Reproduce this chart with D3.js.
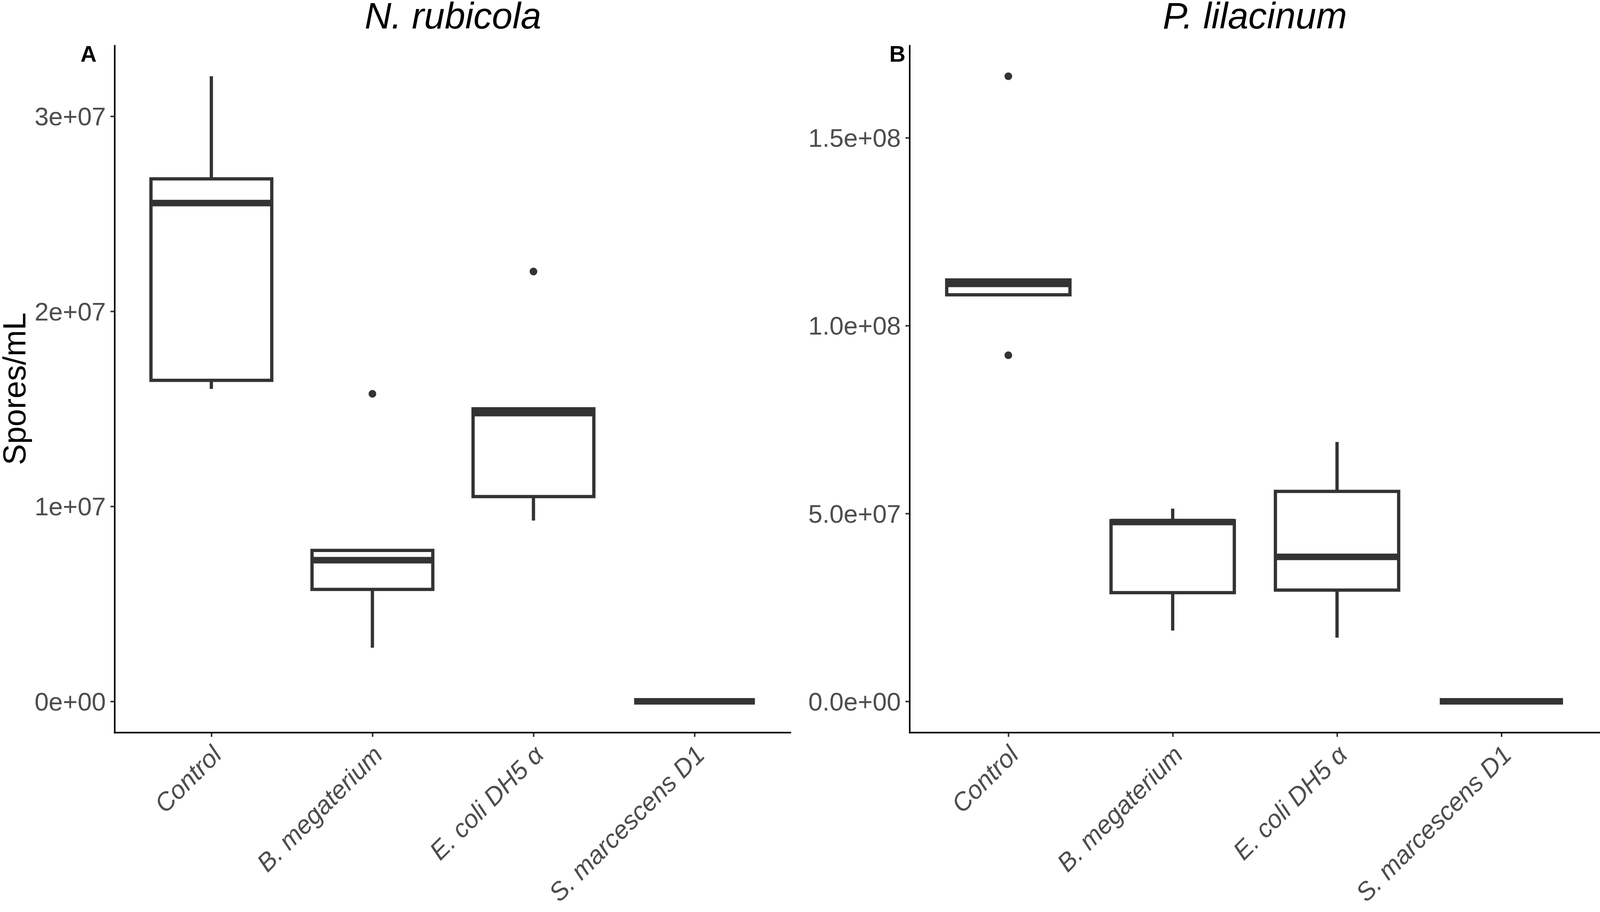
<!DOCTYPE html>
<html>
<head>
<meta charset="utf-8">
<script src="https://cdn.jsdelivr.net/npm/d3@7"></script>
<style>
  html, body { margin: 0; padding: 0; background: #ffffff; width: 100%; height: 100%; overflow: hidden; }
  svg { display: block; width: 100vw; height: 100vh; }
</style>
</head>
<body>
<script>
// ---------------- data ----------------
const categories = ["Control", "B. megaterium", "E. coli DH5 α", "S. marcescens D1"];

const panelTitles = ["N. rubicola", "P. lilacinum"];
const panelTags = ["A", "B"];
const yAxisTitle = "Spores/mL";

// Panel A: N. rubicola (box statistics)
const rubicolaLower   = [1.602e7, 0.275e7, 0.927e7, 0];
const rubicolaQ1      = [1.646e7, 0.574e7, 1.050e7, 0];
const rubicolaMedian  = [2.555e7, 0.724e7, 1.478e7, 0];
const rubicolaQ3      = [2.679e7, 0.774e7, 1.500e7, 0];
const rubicolaUpper   = [3.205e7, 0.774e7, 1.500e7, 0];
const rubicolaOutliers = [[], [1.577e7], [2.204e7], []];
const rubicolaTicks = [0, 1e7, 2e7, 3e7];
const rubicolaTickLabels = ["0e+00", "1e+07", "2e+07", "3e+07"];

// Panel B: P. lilacinum
const lilacinumLower  = [1.082e8, 1.886e7, 1.695e7, 0];
const lilacinumQ1     = [1.082e8, 2.893e7, 2.961e7, 0];
const lilacinumMedian = [1.111e8, 4.773e7, 3.846e7, 0];
const lilacinumQ3     = [1.1215e8, 4.809e7, 5.588e7, 0];
const lilacinumUpper  = [1.1215e8, 5.129e7, 6.904e7, 0];
const lilacinumOutliers = [[1.6636e8, 0.9211e8], [], [], []];
const lilacinumTicks = [0, 5e7, 1e8, 1.5e8];
const lilacinumTickLabels = ["0.0e+00", "5.0e+07", "1.0e+08", "1.5e+08"];

// ---------------- layout ----------------
const W = 4156, H = 2336;
const FONT = "'Liberation Sans', Arial, Helvetica, sans-serif";
const INK = "#333333";

const panels = [
  { title: panelTitles[0], tag: panelTags[0], left: 298, right: 2055, tagX: 209, yTitle: true,
    lower: rubicolaLower, q1: rubicolaQ1, median: rubicolaMedian, q3: rubicolaQ3, upper: rubicolaUpper,
    outliers: rubicolaOutliers, ticks: rubicolaTicks, tickLabels: rubicolaTickLabels },
  { title: panelTitles[1], tag: panelTags[1], left: 2363, right: 4156, tagX: 2310, yTitle: false,
    lower: lilacinumLower, q1: lilacinumQ1, median: lilacinumMedian, q3: lilacinumQ3, upper: lilacinumUpper,
    outliers: lilacinumOutliers, ticks: lilacinumTicks, tickLabels: lilacinumTickLabels }
];
const plotTop = 117, plotBottom = 1904;

const svg = d3.select("body").append("svg")
  .attr("viewBox", `0 0 ${W} ${H}`)
  .attr("preserveAspectRatio", "xMidYMin meet");
svg.append("rect").attr("width", W).attr("height", H).attr("fill", "#ffffff");

panels.forEach(p => {
  const g = svg.append("g");

  const allVals = [].concat(p.lower, p.upper, p.q1, p.q3, p.median, ...p.outliers);
  const lo = d3.min(allVals), hi = d3.max(allVals);
  const pad = (hi - lo) * 0.05;
  const y = d3.scaleLinear().domain([lo - pad, hi + pad]).range([plotBottom, plotTop]);
  const x = d3.scalePoint().domain(categories).range([p.left, p.right]).padding(0.6);
  const bw = x.step() * 0.75;

  const rows = categories.map((c, i) => ({
    c, lower: p.lower[i], q1: p.q1[i], median: p.median[i], q3: p.q3[i], upper: p.upper[i], out: p.outliers[i]
  }));

  // whiskers
  rows.forEach(r => {
    if (r.upper > r.q3) g.append("line").attr("x1", x(r.c)).attr("x2", x(r.c))
      .attr("y1", y(r.q3)).attr("y2", y(r.upper)).attr("stroke", INK).attr("stroke-width", 8.5);
    if (r.lower < r.q1) g.append("line").attr("x1", x(r.c)).attr("x2", x(r.c))
      .attr("y1", y(r.q1)).attr("y2", y(r.lower)).attr("stroke", INK).attr("stroke-width", 8.5);
  });

  // boxes
  g.selectAll("rect.box").data(rows).join("rect").attr("class", "box")
    .attr("x", d => x(d.c) - bw / 2).attr("width", bw)
    .attr("y", d => y(d.q3)).attr("height", d => y(d.q1) - y(d.q3))
    .attr("fill", "#ffffff").attr("stroke", INK).attr("stroke-width", 8.5);

  // medians
  g.selectAll("line.med").data(rows).join("line").attr("class", "med")
    .attr("x1", d => x(d.c) - bw / 2).attr("x2", d => x(d.c) + bw / 2)
    .attr("y1", d => y(d.median)).attr("y2", d => y(d.median))
    .attr("stroke", INK).attr("stroke-width", 17).attr("stroke-linecap", "butt");

  // outliers
  const outs = rows.flatMap(r => r.out.map(v => ({ c: r.c, v })));
  g.selectAll("circle.out").data(outs).join("circle").attr("class", "out")
    .attr("cx", d => x(d.c)).attr("cy", d => y(d.v)).attr("r", 10).attr("fill", INK);

  // y axis
  const yAxis = d3.axisLeft(y).tickValues(p.ticks)
    .tickFormat((d, i) => p.tickLabels[i]).tickSize(11).tickSizeOuter(0).tickPadding(12);
  const ya = g.append("g").attr("transform", `translate(${p.left},0)`).call(yAxis);
  ya.select(".domain").remove();
  ya.selectAll(".tick line").attr("stroke", INK).attr("stroke-width", 4);
  ya.selectAll(".tick text").attr("fill", "#4d4d4d").attr("font-family", FONT)
    .attr("font-size", 66).attr("dy", "0.35em");
  g.append("line").attr("x1", p.left).attr("x2", p.left).attr("y1", plotTop).attr("y2", plotBottom + 2)
    .attr("stroke", "#000").attr("stroke-width", 4);

  // x axis
  const xAxis = d3.axisBottom(x).tickSize(11).tickSizeOuter(0);
  const xa = g.append("g").attr("transform", `translate(0,${plotBottom})`).call(xAxis);
  xa.select(".domain").remove();
  xa.selectAll(".tick line").attr("stroke", INK).attr("stroke-width", 4);
  xa.selectAll(".tick text")
    .attr("x", 0).attr("y", 0).attr("dy", 0)
    .attr("transform", "translate(30,62) rotate(-45)")
    .attr("text-anchor", "end")
    .attr("fill", "#4d4d4d").attr("font-family", FONT).attr("font-size", 66)
    .attr("font-style", "italic");
  g.append("line").attr("x1", p.left - 2).attr("x2", p.right).attr("y1", plotBottom).attr("y2", plotBottom)
    .attr("stroke", "#000").attr("stroke-width", 4);

  // title
  g.append("text").attr("x", (p.left + p.right) / 2).attr("y", 74)
    .attr("text-anchor", "middle").attr("font-family", FONT).attr("font-size", 96)
    .attr("font-style", "italic").attr("fill", "#000").text(p.title);

  // tag
  g.append("text").attr("x", p.tagX).attr("y", 160)
    .attr("font-family", FONT).attr("font-size", 58).attr("font-weight", "bold")
    .attr("fill", "#000").text(p.tag);

  // y title
  if (p.yTitle) {
    g.append("text").attr("transform", `translate(66,${(plotTop + plotBottom) / 2}) rotate(-90)`)
      .attr("text-anchor", "middle").attr("font-family", FONT).attr("font-size", 82)
      .attr("fill", "#000").text(yAxisTitle);
  }
});
</script>
</body>
</html>
